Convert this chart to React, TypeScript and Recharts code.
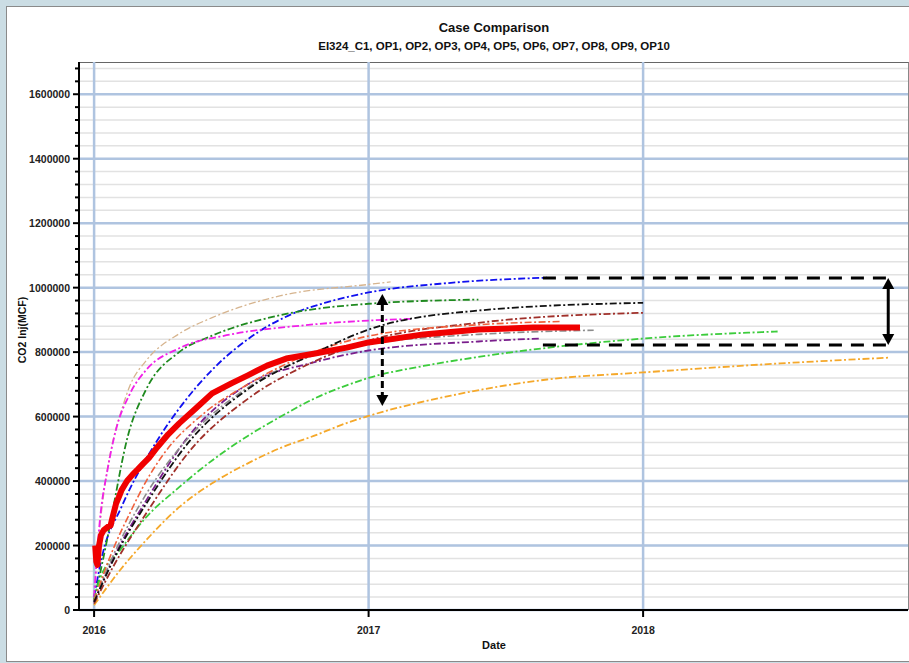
import React from 'react';
import { LineChart, Line, XAxis, YAxis, CartesianGrid, ReferenceLine } from 'recharts';

// [years after 1 Jan 2016, cumulative CO2 injected (MCF)]
const C1_HISTORY = [
    [0.004, 200000], [0.008, 150000], [0.012, 140000], [0.018, 200000], [0.025, 232000],
    [0.035, 248000], [0.05, 258000], [0.06, 262000], [0.068, 290000], [0.08, 330000],
    [0.09, 350000], [0.1, 372000], [0.12, 400000], [0.14, 420000], [0.16, 437000],
    [0.18, 455000], [0.2, 472000], [0.23, 505000], [0.27, 545000], [0.31, 579000],
    [0.37, 625000], [0.43, 672000], [0.5, 703000], [0.56, 728000], [0.63, 758000],
    [0.7, 780000], [0.8, 795000], [0.92, 814000], [1.0, 830000], [1.2, 855000],
    [1.4, 870000], [1.6, 876000], [1.77, 876000],
];
const OP_TAN = [
    [0, 40000], [0.02, 250000], [0.04, 390000], [0.07, 530000], [0.1, 620000], [0.13, 695000],
    [0.19, 774000], [0.31, 857000], [0.43, 907000], [0.68, 975000], [1.0, 1010000], [1.08, 1018000],
];
const OP_BLUE = [
    [0, 40000], [0.03, 170000], [0.1, 320000], [0.23, 526000], [0.31, 625000], [0.43, 745000],
    [0.56, 840000], [0.72, 918000], [0.85, 955000], [1.0, 985000], [1.3, 1015000], [1.65, 1031000],
];
const OP_DARKGREEN = [
    [0, 30000], [0.047, 217000], [0.07, 319000], [0.12, 530000], [0.19, 685000], [0.31, 800000],
    [0.43, 851000], [0.68, 915000], [1.0, 950000], [1.4, 963000],
];
const OP_MAGENTA = [
    [0, 40000], [0.02, 269000], [0.05, 440000], [0.08, 560000], [0.13, 670000], [0.19, 745000],
    [0.31, 812000], [0.5, 855000], [0.75, 882000], [1.0, 898000], [1.16, 903000],
];
const OP_BLACK = [
    [0, 25000], [0.07, 155000], [0.19, 330000], [0.35, 526000], [0.56, 685000], [0.8, 795000],
    [1.0, 870000], [1.4, 929000], [2.0, 953000],
];
const OP_BROWN = [
    [0, 20000], [0.07, 135000], [0.19, 300000], [0.35, 495000], [0.56, 655000], [0.8, 770000],
    [1.0, 835000], [1.4, 891000], [2.0, 922000],
];
const OP_CORAL = [
    [0, 30000], [0.07, 190000], [0.13, 300000], [0.19, 400000], [0.25, 480000], [0.4, 610000],
    [0.56, 700000], [0.8, 800000], [1.0, 850000], [1.4, 885000], [1.7, 895000],
];
const OP_GREY = [
    [0, 30000], [0.07, 170000], [0.19, 360000], [0.35, 540000], [0.56, 690000], [0.8, 790000],
    [1.0, 825000], [1.4, 855000], [1.82, 868000],
];
const OP_PURPLE = [
    [0, 25000], [0.07, 160000], [0.19, 340000], [0.35, 545000], [0.56, 700000], [0.8, 768000],
    [1.0, 805000], [1.4, 833000], [1.62, 842000],
];
const OP_LIME = [
    [0, 31000], [0.02, 93000], [0.095, 186000], [0.19, 288000], [0.31, 381000], [0.43, 464000],
    [0.56, 540000], [0.68, 600000], [0.8, 655000], [0.92, 697000], [1.0, 720000], [1.2, 757000],
    [1.4, 785000], [2.0, 842000], [2.49, 864000],
];
const OP_ORANGE = [
    [0, 15000], [0.095, 124000], [0.19, 217000], [0.31, 319000], [0.43, 393000], [0.56, 455000],
    [0.68, 503000], [0.8, 540000], [0.92, 580000], [1.0, 602000], [1.3, 665000], [1.65, 715000],
    [2.0, 737000], [2.5, 765000], [2.9, 783000],
];

// annotation: spread band at end of forecast, and spread arrow near 2017
const BAND_TOP = [[1.635, 1030000], [2.893, 1030000]];
const BAND_BOTTOM = [[1.635, 822000], [2.893, 822000]];
const BAND_ARROW = [[2.893, 1030000], [2.893, 822000]];
const EARLY_ARROW = [[1.05, 980000], [1.05, 633000]];

const X_TICKS = [2016, 2017, 2018];
const Y_MAJOR = [0, 200000, 400000, 600000, 800000, 1000000, 1200000, 1400000, 1600000];
const Y_MINOR = Array.from({ length: 43 }, (_, i) => i * 40000);

const START_YEAR = 2016;
const FONT = '"Liberation Sans", Arial, sans-serif';
const DASH_DOT = '7 2.5 2 2.5';

const toRows = (pairs: number[][]) => pairs.map(([t, v]) => ({ year: START_YEAR + t, co2: v }));
const toSeg = (pairs: number[][]) => pairs.map(([t, v]) => ({ x: START_YEAR + t, y: v }));

const SERIES = [
    { name: 'OP1', data: OP_TAN, color: '#d6b48e', width: 1.3 },
    { name: 'OP2', data: OP_BLUE, color: '#1010f0', width: 1.8 },
    { name: 'OP3', data: OP_DARKGREEN, color: '#1f8a1f', width: 1.8 },
    { name: 'OP4', data: OP_MAGENTA, color: '#f020e8', width: 1.8 },
    { name: 'OP5', data: OP_ORANGE, color: '#f5a82a', width: 1.8 },
    { name: 'OP6', data: OP_LIME, color: '#3ccc3c', width: 1.8 },
    { name: 'OP7', data: OP_PURPLE, color: '#7a1e8c', width: 1.8 },
    { name: 'OP8', data: OP_GREY, color: '#8c8c8c', width: 1.6 },
    { name: 'OP9', data: OP_BROWN, color: '#a0302a', width: 1.8 },
    { name: 'OP10', data: OP_CORAL, color: '#f0603c', width: 1.6 },
    { name: 'OP0', data: OP_BLACK, color: '#111111', width: 1.8 },
];

const YTick = (props: any) => {
    const { x, y, payload } = props;
    const major = payload.value % 200000 === 0;
    return (
        <g>
            <line x1={x - (major ? 6 : 4)} x2={x} y1={y} y2={y} stroke="#000" strokeWidth={2} />
            {major && (
                <text x={x - 9} y={y} dy={4} textAnchor="end" fontFamily={FONT} fontWeight="bold" fontSize={10.5} fill="#222">
                    {payload.value}
                </text>
            )}
        </g>
    );
};

const XTick = (props: any) => {
    const { x, y, payload } = props;
    return (
        <g>
            <line x1={x} x2={x} y1={y} y2={y + 7} stroke="#000" strokeWidth={2} />
            <text x={x} y={y + 24} textAnchor="middle" fontFamily={FONT} fontWeight="bold" fontSize={10.5} fill="#222">
                {payload.value}
            </text>
        </g>
    );
};

const arrowShape = (dashed: boolean) => (p: any) => {
    const { x1, y1, x2, y2 } = p;
    const top = Math.min(y1, y2);
    const bot = Math.max(y1, y2);
    const h = 11;
    const w = 6;
    return (
        <g>
            <line x1={x1} x2={x2} y1={top + h - 1} y2={bot - h + 1} stroke="#000" strokeWidth={3}
                strokeDasharray={dashed ? '7 4' : undefined} />
            <polygon points={`${x1},${top} ${x1 - w},${top + h} ${x1 + w},${top + h}`} fill="#000" />
            <polygon points={`${x1},${bot} ${x1 - w},${bot - h} ${x1 + w},${bot - h}`} fill="#000" />
        </g>
    );
};

export default function App() {
    return (
        <div style={{ position: 'absolute', left: 0, top: 0, width: 909, height: 663, background: '#cbdde4', overflow: 'hidden' }}>
            <div style={{ position: 'absolute', left: 6, top: 6, width: 910, height: 654, background: '#fff', border: '1px solid #8a8a8a' }} />
            <div style={{ position: 'absolute', left: 79, top: 62, width: 829, height: 547, borderTop: '1px solid #666', borderRight: '1px solid #888' }} />
            <div style={{ position: 'absolute', left: 0, top: 0 }}>
                <LineChart width={909} height={663} margin={{ top: 62, right: 1, left: 9, bottom: 0 }}>
                    <CartesianGrid horizontalValues={Y_MINOR} vertical={false} stroke="#e2e2e2" strokeWidth={1.5} />
                    <CartesianGrid horizontalValues={Y_MAJOR} verticalValues={X_TICKS} stroke="#afc4e0" strokeWidth={2.5} />
                    <XAxis
                        type="number"
                        dataKey="year"
                        domain={[2015.945, 2018.965]}
                        ticks={X_TICKS}
                        allowDataOverflow
                        height={53}
                        tickSize={0}
                        tickMargin={0}
                        tickLine={false}
                        tick={<XTick />}
                        axisLine={{ stroke: '#000', strokeWidth: 2 }}
                    />
                    <YAxis
                        type="number"
                        domain={[0, 1700000]}
                        ticks={Y_MINOR}
                        interval={0}
                        width={70}
                        tickSize={0}
                        tickMargin={0}
                        tickLine={false}
                        tick={<YTick />}
                        axisLine={{ stroke: '#000', strokeWidth: 2 }}
                    />
                    {SERIES.map(s => (
                        <Line
                            key={s.name}
                            data={toRows(s.data)}
                            dataKey="co2"
                            type="monotone"
                            stroke={s.color}
                            strokeWidth={s.width}
                            strokeDasharray={DASH_DOT}
                            dot={false}
                            isAnimationActive={false}
                        />
                    ))}
                    <Line
                        data={toRows(C1_HISTORY)}
                        dataKey="co2"
                        type="linear"
                        stroke="#f00000"
                        strokeWidth={6}
                        strokeLinejoin="round"
                        dot={false}
                        isAnimationActive={false}
                    />
                    <ReferenceLine segment={toSeg(BAND_TOP)} stroke="#000" strokeWidth={3} strokeDasharray="13 9" />
                    <ReferenceLine segment={toSeg(BAND_BOTTOM)} stroke="#000" strokeWidth={3} strokeDasharray="13 9" />
                    <ReferenceLine segment={toSeg(BAND_ARROW)} shape={arrowShape(false)} />
                    <ReferenceLine segment={toSeg(EARLY_ARROW)} shape={arrowShape(true)} />
                </LineChart>
            </div>
            <svg width={909} height={663} style={{ position: 'absolute', left: 0, top: 0, pointerEvents: 'none' }}>
                <text x={494} y={32} textAnchor="middle" fontFamily={FONT} fontWeight="bold" fontSize={13} fill="#111">
                    Case Comparison
                </text>
                <text x={494} y={50} textAnchor="middle" fontFamily={FONT} fontWeight="bold" fontSize={11.5} fill="#111">
                    EI324_C1, OP1, OP2, OP3, OP4, OP5, OP6, OP7, OP8, OP9, OP10
                </text>
                <text x={26} y={330} transform="rotate(-90 26 330)" textAnchor="middle" fontFamily={FONT} fontWeight="bold" fontSize={10.5} fill="#111">
                    CO2 Inj(MCF)
                </text>
                <text x={494} y={649} textAnchor="middle" fontFamily={FONT} fontWeight="bold" fontSize={11} fill="#111">
                    Date
                </text>
            </svg>
        </div>
    );
}
